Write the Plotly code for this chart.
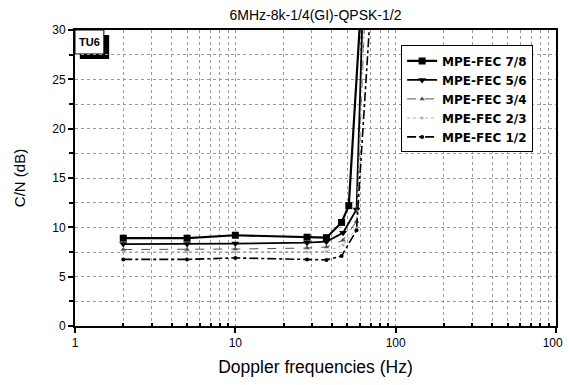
import plotly.graph_objects as go

# Data
x_78 = [2, 5, 10, 28, 37, 46, 51, 60]
y_78 = [8.9, 8.9, 9.2, 9.0, 8.95, 10.5, 12.2, 31]
x_56 = [2, 5, 10, 28, 37, 47, 57, 62]
y_56 = [8.3, 8.3, 8.35, 8.45, 8.55, 9.45, 11.8, 31]
x_34 = [2, 5, 10, 28, 37, 47, 57, 64]
y_34 = [7.75, 7.75, 7.8, 7.9, 8.0, 8.7, 10.6, 31]
x_23 = [2, 5, 10, 28, 37, 47, 57, 64]
y_23 = [7.5, 7.5, 7.5, 7.5, 7.55, 8.2, 9.9, 31]
x_12 = [2, 5, 10, 28, 37, 46, 57, 69]
y_12 = [6.75, 6.75, 6.9, 6.75, 6.7, 7.1, 9.7, 31]

x_major = [1, 10, 100, 1000]
x_labels = ["1", "10", "100", "1000"]
x_minor = [v * d for d in (1, 10, 100) for v in range(2, 10)]
y_major = [0, 5, 10, 15, 20, 25, 30]

FONT = "Liberation Sans, Arial, sans-serif"
LEGEND_FONT = "DejaVu Sans, Liberation Sans, sans-serif"

# the page body adds an 8px margin; size the figure so the page does not overflow
OFF = 8
W, H = 571 - OFF, 385 - 2 * OFF

fig = go.Figure()
fig.add_trace(go.Scatter(x=x_78, y=y_78, name="MPE-FEC 7/8", mode="lines+markers",
                         line=dict(color="black", width=2.2),
                         marker=dict(symbol="square", size=7, color="black")))
fig.add_trace(go.Scatter(x=x_56, y=y_56, name="MPE-FEC 5/6", mode="lines+markers",
                         line=dict(color="black", width=1.8),
                         marker=dict(symbol="triangle-down", size=7, color="black")))
fig.add_trace(go.Scatter(x=x_34, y=y_34, name="MPE-FEC 3/4", mode="lines+markers",
                         line=dict(color="#555555", width=1, dash="dash"),
                         marker=dict(symbol="triangle-up", size=5, color="#555555")))
fig.add_trace(go.Scatter(x=x_23, y=y_23, name="MPE-FEC 2/3", mode="lines+markers",
                         line=dict(color="#b0b0b0", width=1, dash="dot"),
                         marker=dict(symbol="circle", size=3, color="#b0b0b0")))
fig.add_trace(go.Scatter(x=x_12, y=y_12, name="MPE-FEC 1/2", mode="lines+markers",
                         line=dict(color="black", width=1.6, dash="dashdot"),
                         marker=dict(symbol="circle", size=4, color="black")))

# TU6 label box with shadow
fig.add_shape(type="rect", xref="paper", yref="paper",
              x0=0.010, x1=0.071, y0=0.902, y1=0.983,
              fillcolor="black", line=dict(width=0), layer="between")
fig.add_shape(type="rect", xref="paper", yref="paper",
              x0=0.0, x1=0.060, y0=0.919, y1=1.0,
              fillcolor="white", line=dict(color="black", width=1), layer="between")
fig.add_annotation(x=0.030, y=0.959, xref="paper", yref="paper", text="<b>TU6</b>",
                   xanchor="center", yanchor="middle",
                   showarrow=False, font=dict(family=FONT, size=11, color="black"))

fig.update_layout(
    width=W, height=H,
    margin=dict(l=75 - OFF, r=15, t=30 - OFF, b=51),
    paper_bgcolor="white", plot_bgcolor="white",
    font=dict(family=FONT, size=12, color="black"),
    title=dict(text="6MHz-8k-1/4(GI)-QPSK-1/2", x=0.5, xref="paper",
               y=1 - 7 / H, yref="container", yanchor="middle",
               font=dict(family=FONT, size=14, color="black")),
    legend=dict(x=0.678, y=0.948, xanchor="left", yanchor="top",
                bgcolor="white", bordercolor="black", borderwidth=1,
                font=dict(family=LEGEND_FONT, size=12, color="black", weight="bold"),
                tracegroupgap=0, itemwidth=30),
    showlegend=True,
)

fig.update_xaxes(
    type="log", range=[0, 3], automargin=False,
    tickvals=x_major, ticktext=x_labels,
    ticks="outside", ticklen=5, tickwidth=1.5, tickcolor="black",
    showline=True, linecolor="black", linewidth=2, mirror=True,
    showgrid=True, gridcolor="#9a9a9a", griddash="dot", gridwidth=1,
    minor=dict(tickvals=x_minor, ticks="inside", ticklen=3, tickcolor="black",
               showgrid=True, gridcolor="#9a9a9a", griddash="dot", gridwidth=1),
    tickfont=dict(family=FONT, size=12),
    title=dict(text="Doppler frequencies (Hz)", font=dict(family=FONT, size=17.5), standoff=12),
    zeroline=False,
)
fig.update_yaxes(
    range=[0, 30], automargin=False, tickvals=y_major,
    ticks="outside", ticklen=5, tickwidth=1.5, tickcolor="black",
    showline=True, linecolor="black", linewidth=2, mirror=True,
    showgrid=True, gridcolor="#9a9a9a", griddash="dot", gridwidth=1,
    minor=dict(dtick=2.5, ticks="outside", ticklen=4, tickcolor="black",
               showgrid=True, gridcolor="#9a9a9a", griddash="dot", gridwidth=1),
    tickfont=dict(family=FONT, size=12),
    title=dict(text="C/N (dB)", font=dict(family=FONT, size=15), standoff=23),
    zeroline=False,
)

fig.write_html("out.html")
